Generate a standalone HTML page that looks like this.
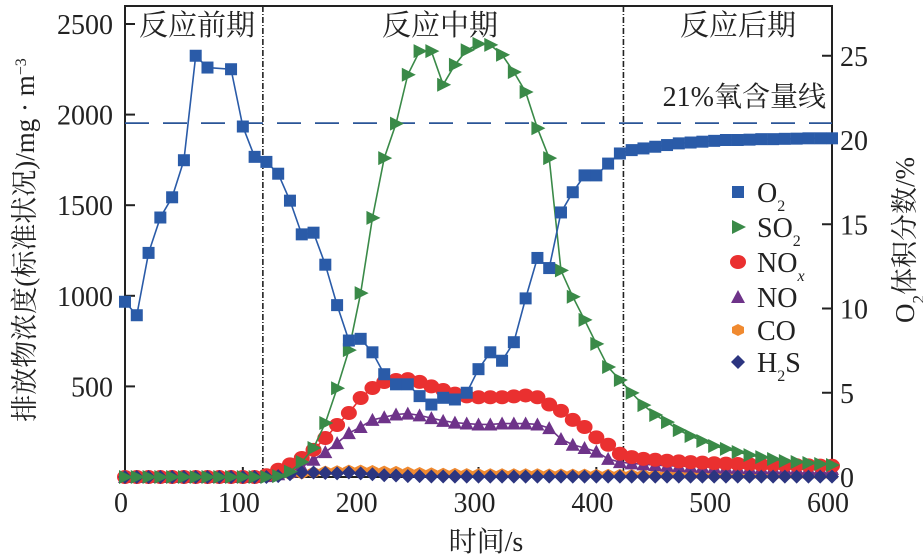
<!DOCTYPE html>
<html><head><meta charset="utf-8"><style>
body{margin:0;background:#fff}
svg{display:block;font-family:"Liberation Serif","Noto Serif CJK SC",serif}
</style></head><body>
<svg id="chart" width="923" height="559" viewBox="0 0 923 559" xmlns="http://www.w3.org/2000/svg"></svg>
<script>
const xTicks=[0,100,200,300,400,500,600];
const yLeftTicks=[500,1000,1500,2000,2500];
const yRightTicks=[0,5,10,15,20,25];
const o2Times=[0,10,20,30,40,50,60,70,90,100,110,120,130,140,150,160,170,180,190,200,210,220,230,240,250,260,270,280,290,300,310,320,330,340,350,360,370,380,390,400,410,420,430,440,450,460,470,480,490,500,510,520,530,540,550,560,570,580,590,600];
const o2Values=[10.4,9.6,13.3,15.4,16.6,18.8,25.0,24.3,24.2,20.8,19.0,18.7,18.0,16.4,14.4,14.5,12.6,10.2,8.1,8.2,7.4,6.1,5.5,5.5,4.8,4.3,4.7,4.6,5.0,6.4,7.4,6.9,8.0,10.6,13.0,12.4,15.7,16.9,17.9,17.9,18.6,19.2,19.4,19.5,19.6,19.7,19.8,19.85,19.9,19.95,20.0,20.0,20.02,20.05,20.05,20.07,20.08,20.1,20.1,20.1];
const times=[0,10,20,30,40,50,60,70,80,90,100,110,120,130,140,150,160,170,180,190,200,210,220,230,240,250,260,270,280,290,300,310,320,330,340,350,360,370,380,390,400,410,420,430,440,450,460,470,480,490,500,510,520,530,540,550,560,570,580,590,600];
const so2Values=[0,0,0,0,0,0,0,0,0,0,0,0,0,5,30,83,160,298,490,700,1015,1430,1760,1950,2220,2350,2350,2165,2275,2355,2390,2385,2330,2235,2125,1925,1760,1140,995,867,735,607,535,464,397,342,303,259,226,199,171,155,138,121,110,99,88,83,77,72,66];
const noxValues=[0,0,0,0,0,0,0,0,0,0,0,0,10,40,70,105,150,215,287,353,436,491,524,535,540,525,500,480,460,445,440,440,440,445,450,440,400,365,315,276,219,178,128,110,100,95,90,86,82,79,76,74,72,70,68,67,66,65,64,63,62];
const noValues=[0,0,0,0,0,0,0,0,0,0,0,0,5,15,30,55,95,137,187,242,276,315,330,345,350,340,325,310,300,295,290,290,295,295,295,290,270,210,178,160,140,100,82,75,70,66,62,60,58,56,54,52,51,50,49,48,47,46,45,45,45];
const coValues=[0,0,0,0,0,0,0,0,0,0,0,0,5,10,15,20,25,30,32,35,35,33,30,28,25,22,20,18,17,16,15,15,15,15,15,15,14,14,13,13,12,12,12,11,11,11,10,10,10,10,10,10,10,10,10,10,10,10,10,10,10];
const h2sValues=[0,0,0,0,0,0,0,0,0,0,0,0,0,5,15,25,25,22,20,25,20,15,10,8,5,5,3,3,2,2,2,2,2,2,2,2,2,2,2,2,2,2,2,2,2,2,2,2,2,2,2,2,2,2,2,2,2,2,2,2,2];

const svg=document.getElementById('chart');
const NS='http://www.w3.org/2000/svg';
const X0=125,X1=832,Y0=477,YT=6;
const xs=t=>X0+t*(X1-X0)/600;
const yl=v=>Y0-v*(90.6/500);
const yr=v=>Y0-v*(84.25/5);
function mk(tag,attrs,parent){const e=document.createElementNS(NS,tag);for(const k in attrs)e.setAttribute(k,attrs[k]);(parent||svg).appendChild(e);return e;}
function txt(x,y,s,size,anchor,parent){const e=mk('text',{x:x,y:y,'font-size':size,'text-anchor':anchor||'middle',fill:'#222'},parent);e.innerHTML=s;return e;}

const frame=mk('rect',{x:X0,y:YT,width:X1-X0,height:Y0-YT,fill:'none',stroke:'#222','stroke-width':2});


const xg=mk('g',{});
xTicks.forEach(t=>{mk('line',{x1:xs(t),x2:xs(t),y1:Y0,y2:Y0-10,stroke:'#222','stroke-width':2},xg);
 const l=txt(xs(t)-4,Y0+35,t,28,'middle',xg);});
const yg=mk('g',{});
yLeftTicks.forEach(v=>{mk('line',{x1:X0,x2:X0+10,y1:yl(v),y2:yl(v),stroke:'#222','stroke-width':2},yg);
 const l=txt(X0-12,yl(v)+10,v,28,'end',yg);});
const rg=mk('g',{});
yRightTicks.forEach(v=>{mk('line',{x1:X1,x2:X1-10,y1:yr(v),y2:yr(v),stroke:'#222','stroke-width':2},rg);
 const l=txt(X1+8,yr(v)+10,v,28,'start',rg);});

const xt=txt(486,551,'时间/s',28);
const lt=txt(0,0,'排放物浓度(标准状况)/mg · m<tspan baseline-shift="super" font-size="16">−3</tspan>',27);
lt.setAttribute('transform','translate(34,240) rotate(-90)');

const rt=txt(0,0,'O<tspan baseline-shift="sub" font-size="17">2</tspan>体积分数/%',27);
rt.setAttribute('transform','translate(914,240) rotate(-90)');


[117,423].forEach(t=>{const l=mk('line',{x1:xs(t),x2:xs(t),y1:YT,y2:Y0,stroke:'#222','stroke-width':1.6,'stroke-dasharray':'6 2 1 2'});
 });
[[197,'反应前期'],[440,'反应中期'],[738,'反应后期']].forEach(p=>{const l=txt(p[0],35,p[1],29);
 });
const ol=mk('line',{x1:X0,x2:X1,y1:yr(21),y2:yr(21),stroke:'#2a5597','stroke-width':1.8,'stroke-dasharray':'24 14'});

const olt=txt(826,106,'21%氧含量线',28,'end');

function marker(type,x,y,color,g){
 if(type==='sq')return mk('rect',{x:x-6,y:y-6,width:12,height:12,fill:color},g);
 if(type==='tri')return mk('polygon',{points:`${x-6},${y-7} ${x+8},${y} ${x-6},${y+7}`,fill:color},g);
 if(type==='circ')return mk('ellipse',{cx:x,cy:y,rx:8,ry:7,fill:color},g);
 if(type==='up')return mk('polygon',{points:`${x-7},${y+6} ${x+7},${y+6} ${x},${y-7}`,fill:color},g);
 if(type==='hex')return mk('polygon',{points:`${x-6},${y-3} ${x},${y-6} ${x+6},${y-3} ${x+6},${y+3} ${x},${y+6} ${x-6},${y+3}`,fill:color},g);
 return mk('polygon',{points:`${x},${y-7} ${x+7},${y} ${x},${y+7} ${x-7},${y}`,fill:color},g);
}
function series(name,ts,vals,yf,type,color,line){
 const g=mk('g',{});
 const pts=ts.map((t,i)=>xs(t)+','+yf(vals[i])).join(' ');
 if(line)mk('polyline',{points:pts,fill:'none',stroke:color,'stroke-width':1.6},g);
 ts.forEach((t,i)=>{const m=marker(type,xs(t),yf(vals[i]),color,g);});
}
series('co-series',times,coValues,yl,'hex','#f08a30',true);
series('no-series',times,noValues,yl,'up','#6e3389',true);
series('nox-series',times,noxValues,yl,'circ','#ea3030',true);
series('h2s-series',times,h2sValues,yl,'dia','#2c3580',true);
series('so2-series',times,so2Values,yl,'tri','#3a8a48',true);
series('o2-series',o2Times,o2Values,yr,'sq','#2a5ba8',true);

const lg=mk('g',{});
const leg=[['sq','#2a5ba8','O<tspan baseline-shift="sub" font-size="16">2</tspan>'],['tri','#3a8a48','SO<tspan baseline-shift="sub" font-size="16">2</tspan>'],['circ','#ea3030','NO<tspan baseline-shift="sub" font-size="16" font-style="italic">x</tspan>'],['up','#6e3389','NO'],['hex','#f08a30','CO'],['dia','#2c3580','H<tspan baseline-shift="sub" font-size="16">2</tspan>S']];
const legY=[192,227,262,297,330,362];
leg.forEach((l,i)=>{const e=mk('g',{},lg);
 marker(l[0],738,legY[i],l[1],e);txt(757,legY[i]+10,l[2],28,'start',e);});
</script>
</body></html>
